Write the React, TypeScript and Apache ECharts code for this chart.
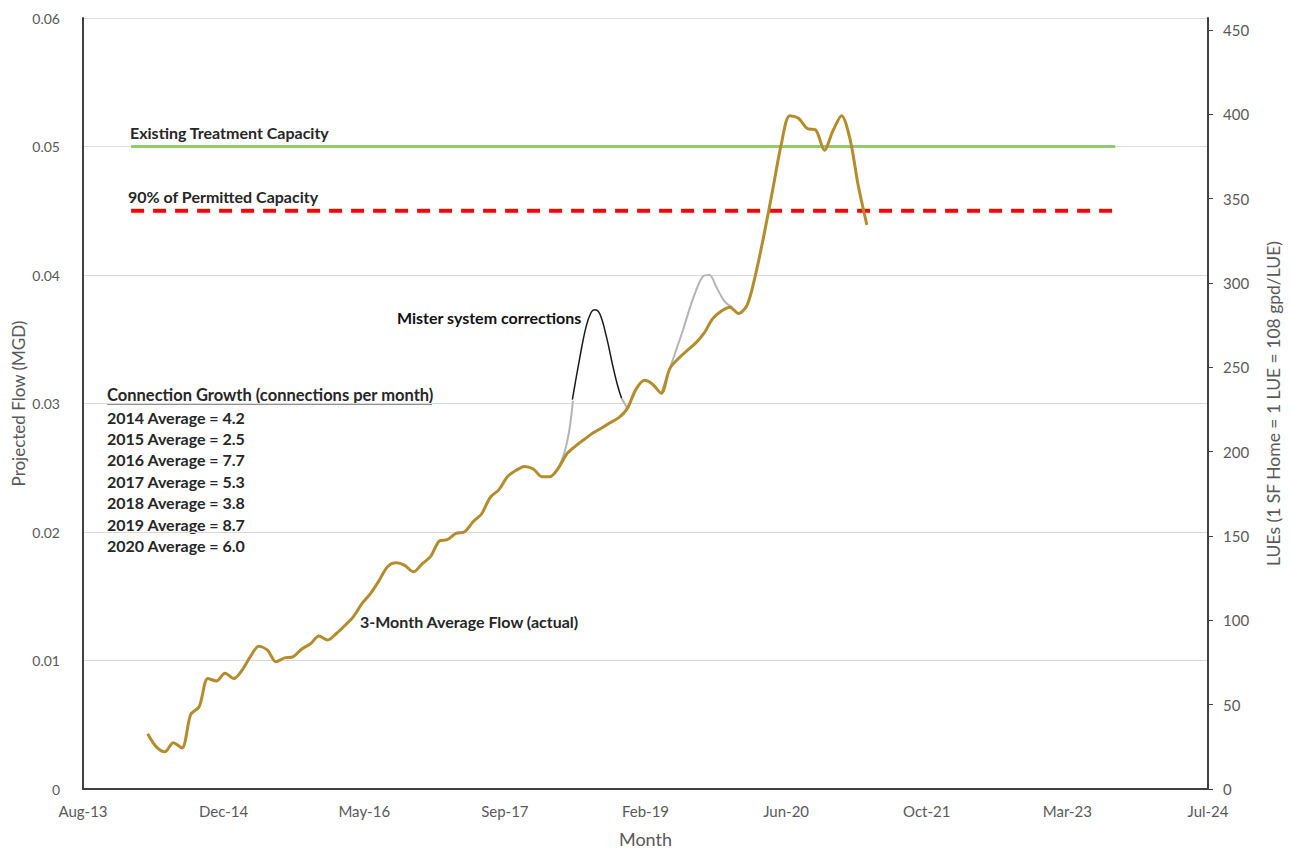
import { useEffect, useRef } from "react";
import * as echarts from "echarts";

// ---------- axis settings (Excel date serials) ----------
const X_MIN = 41500;
const X_MAX = 45500;
const X_STEP = 500;
const LEFT_MAX = 0.06;
const LEFT_STEP = 0.01;
const RIGHT_MAX = 457;
const RIGHT_TICKS = [0, 50, 100, 150, 200, 250, 300, 350, 400, 450];
const MONTH_NAMES = ["Jan", "Feb", "Mar", "Apr", "May", "Jun", "Jul", "Aug", "Sep", "Oct", "Nov", "Dec"];

// ---------- data ----------
const flowMonths = [
  "2014-04-01", "2014-05-01", "2014-06-01", "2014-07-01", "2014-08-01", "2014-09-01", "2014-10-01", "2014-11-01", "2014-12-01",
  "2015-01-01", "2015-02-01", "2015-03-01", "2015-04-01", "2015-05-01", "2015-06-01", "2015-07-01", "2015-08-01", "2015-09-01", "2015-10-01", "2015-11-01", "2015-12-01",
  "2016-01-01", "2016-02-01", "2016-03-01", "2016-04-01", "2016-05-01", "2016-06-01", "2016-07-01", "2016-08-01", "2016-09-01", "2016-10-01", "2016-11-01", "2016-12-01",
  "2017-01-01", "2017-02-01", "2017-03-01", "2017-04-01", "2017-05-01", "2017-06-01", "2017-07-01", "2017-08-01", "2017-09-01", "2017-10-01", "2017-11-01", "2017-12-01",
  "2018-01-01", "2018-02-01", "2018-03-01", "2018-04-01", "2018-05-01", "2018-06-01", "2018-07-01", "2018-08-01", "2018-09-01", "2018-10-01", "2018-11-01", "2018-12-01",
  "2019-01-01", "2019-02-01", "2019-03-01", "2019-04-01", "2019-05-01", "2019-06-01", "2019-07-01", "2019-08-01", "2019-09-01", "2019-10-01", "2019-11-01", "2019-12-01",
  "2020-01-01", "2020-02-01", "2020-03-01", "2020-04-01", "2020-05-01", "2020-06-01", "2020-07-01", "2020-08-01", "2020-09-01", "2020-10-01", "2020-11-01", "2020-12-01",
  "2021-01-01", "2021-02-01", "2021-03-01", "2021-04-01",
];
const flowValues = [
  0.0043, 0.0033, 0.0029, 0.0036, 0.0032, 0.0058, 0.0064, 0.0086, 0.0084,
  0.0090, 0.0086, 0.0092, 0.0103, 0.0111, 0.0108, 0.0099, 0.0102, 0.0103, 0.0109, 0.0113, 0.0119,
  0.0116, 0.0121, 0.0127, 0.0134, 0.0144, 0.0152, 0.0162, 0.0173, 0.0176, 0.0174, 0.0169, 0.0175,
  0.0181, 0.0193, 0.0194, 0.0199, 0.0200, 0.0208, 0.0214, 0.0227, 0.0233, 0.0243, 0.0248, 0.0251,
  0.0249, 0.0243, 0.0243, 0.0250, 0.0261, 0.0267, 0.0272, 0.0277, 0.0281, 0.0285, 0.0289, 0.0296,
  0.0311, 0.0318, 0.0315, 0.0308, 0.0327, 0.0335, 0.0341, 0.0347, 0.0355, 0.0366, 0.0372, 0.0375,
  0.0370, 0.0377, 0.0400, 0.0432, 0.0466, 0.0502, 0.0524, 0.0522, 0.0514, 0.0513, 0.0497, 0.0512,
  0.0524, 0.0505, 0.0470, 0.0439,
];

// uncorrected flow (grey) where it differs from the corrected line
const rawSpike1Dates = ["2018-04-01", "2018-04-22", "2018-05-09", "2018-05-22"];
const rawSpike1Values = [0.0250, 0.0262, 0.0279, 0.0302];
const rawSpike1bDates = ["2018-11-11", "2018-11-22", "2018-12-01"];
const rawSpike1bValues = [0.0304, 0.0300, 0.0296];
const rawSpike2Dates = ["2019-04-01", "2019-05-12", "2019-06-17", "2019-07-22", "2019-08-27", "2019-09-20", "2019-10-13", "2019-11-07", "2019-11-24", "2019-12-10"];
const rawSpike2Values = [0.0308, 0.0334, 0.0357, 0.0381, 0.0399, 0.0400, 0.0391, 0.0381, 0.0377, 0.0375];

// "Mister system corrections" callout curve
const misterDates = ["2018-05-20", "2018-06-14", "2018-07-08", "2018-07-26", "2018-08-07", "2018-08-25", "2018-09-18", "2018-10-11", "2018-10-29", "2018-11-11"];
const misterValues = [0.0303, 0.0334, 0.0360, 0.0371, 0.0373, 0.0370, 0.0352, 0.0329, 0.0313, 0.0304];

const capacityDates = ["2014-02-01", "2023-09-01"];
const existingCapacity = [0.05, 0.05];
const permitted90 = [0.045, 0.045];

const growthTitle = "Connection Growth (connections per month)";
const growthYears = ["2014", "2015", "2016", "2017", "2018", "2019", "2020"];
const growthAverages = ["4.2", "2.5", "7.7", "5.3", "3.8", "8.7", "6.0"];

// ---------- helpers ----------
const EXCEL_EPOCH = Date.UTC(1899, 11, 30);
function toSerial(d: string): number {
  const [y, m, dd] = d.split("-").map(Number);
  return (Date.UTC(y, m - 1, dd) - EXCEL_EPOCH) / 86400000;
}
function serialLabel(v: number): string {
  const dt = new Date(EXCEL_EPOCH + Math.round(v) * 86400000);
  const yy = String(dt.getUTCFullYear() % 100).padStart(2, "0");
  return `${MONTH_NAMES[dt.getUTCMonth()]}-${yy}`;
}
function pairs(dates: string[], values: number[]) {
  return dates.map((d, i) => [toSerial(d), values[i]]);
}

const FONT = "Lato, 'Open Sans', sans-serif";
const AXIS_COLOR = "#404040";
const LABEL_COLOR = "#595959";
const TEXT_COLOR = "#262626";

export default function App() {
  const ref = useRef<HTMLDivElement>(null);
  useEffect(() => {
    document.body.style.margin = "0";
    if (!ref.current) return;
    const chart = echarts.init(ref.current, undefined, { renderer: "svg" });

    const annotFont = `bold 16px ${FONT}`;
    const graphics: any[] = [
      { type: "text", x: 130, y: 132, style: { text: "Existing Treatment Capacity", font: annotFont, fill: TEXT_COLOR, verticalAlign: "middle" } },
      { type: "text", x: 128, y: 196, style: { text: "90% of Permitted Capacity", font: annotFont, fill: TEXT_COLOR, verticalAlign: "middle" } },
      { type: "text", x: 397, y: 317, style: { text: "Mister system corrections", font: annotFont, fill: "#111111", verticalAlign: "middle" } },
      { type: "text", x: 360, y: 621, style: { text: "3-Month Average Flow (actual)", font: annotFont, fill: TEXT_COLOR, verticalAlign: "middle" } },
      { type: "text", x: 107, y: 395, style: { text: growthTitle, font: `bold 16.5px ${FONT}`, fill: TEXT_COLOR, verticalAlign: "middle" } },
      { type: "line", shape: { x1: 107, y1: 404, x2: 432, y2: 404 }, style: { stroke: TEXT_COLOR, lineWidth: 1.2 } },
    ];
    const rowY = [417, 438, 459, 481, 502, 524, 545];
    growthYears.forEach((yr, i) => {
      graphics.push({
        type: "text",
        x: 107,
        y: rowY[i],
        style: { text: `${yr} Average = ${growthAverages[i]}`, font: annotFont, fill: TEXT_COLOR, verticalAlign: "middle" },
      });
    });

    chart.setOption({
      animation: false,
      backgroundColor: "#ffffff",
      grid: { left: 83, right: 83, top: 18, bottom: 63, containLabel: false, outerBoundsMode: "none" },
      xAxis: {
        type: "value",
        min: X_MIN,
        max: X_MAX,
        interval: X_STEP,
        name: "Month",
        nameLocation: "middle",
        nameGap: 41,
        nameMoveOverlap: false,
        nameTextStyle: { color: LABEL_COLOR, fontSize: 18, fontFamily: FONT },
        axisLine: { show: true, lineStyle: { color: AXIS_COLOR, width: 2 } },
        axisTick: { show: false },
        splitLine: { show: false },
        axisLabel: { color: LABEL_COLOR, fontSize: 15, fontFamily: FONT, margin: 14, formatter: (v: number) => serialLabel(v) },
      },
      yAxis: [
        {
          type: "value",
          min: 0,
          max: LEFT_MAX,
          interval: LEFT_STEP,
          name: "Projected Flow (MGD)",
          nameLocation: "middle",
          nameRotate: 90,
          nameGap: 56,
          nameMoveOverlap: false,
          nameTextStyle: { color: LABEL_COLOR, fontSize: 17, fontFamily: FONT },
          axisLine: { show: true, lineStyle: { color: AXIS_COLOR, width: 2 } },
          axisTick: { show: false },
          splitLine: { show: true, lineStyle: { color: "#d9d9d9", width: 1 } },
          axisLabel: {
            color: LABEL_COLOR,
            fontSize: 14,
            fontFamily: FONT,
            margin: 23,
            formatter: (v: number) => (v === 0 ? "0" : v.toFixed(2)),
          },
        },
        {
          type: "value",
          position: "right",
          min: 0,
          max: RIGHT_MAX,
          interval: 50,
          name: "LUEs (1 SF Home = 1 LUE = 108 gpd/LUE)",
          nameLocation: "middle",
          nameRotate: 90,
          nameGap: 56,
          nameMoveOverlap: false,
          nameTextStyle: { color: LABEL_COLOR, fontSize: 17.5, fontFamily: FONT },
          axisLine: { show: true, onZero: false, lineStyle: { color: AXIS_COLOR, width: 2 } },
          axisTick: { show: true, length: 5, lineStyle: { color: AXIS_COLOR, width: 1 }, customValues: RIGHT_TICKS },
          splitLine: { show: false },
          axisLabel: { color: LABEL_COLOR, fontSize: 15, fontFamily: FONT, margin: 15, customValues: RIGHT_TICKS },
        },
      ],
      graphic: graphics,
      series: [
        {
          name: "Existing Treatment Capacity",
          type: "line",
          data: pairs(capacityDates, existingCapacity),
          symbol: "none",
          lineStyle: { color: "#92D050", width: 3 },
          z: 2,
        },
        {
          name: "90% of Permitted Capacity",
          type: "line",
          data: pairs(capacityDates, permitted90),
          symbol: "none",
          lineStyle: { color: "#FF0000", width: 4, type: [13, 9] },
          z: 2,
        },
        {
          name: "Raw flow 1",
          type: "line",
          data: pairs(rawSpike1Dates, rawSpike1Values),
          symbol: "none",
          smooth: 0.3,
          lineStyle: { color: "#B4B4B4", width: 2 },
          z: 3,
        },
        {
          name: "Raw flow 1b",
          type: "line",
          data: pairs(rawSpike1bDates, rawSpike1bValues),
          symbol: "none",
          smooth: 0.3,
          lineStyle: { color: "#B4B4B4", width: 2 },
          z: 3,
        },
        {
          name: "Raw flow 2",
          type: "line",
          data: pairs(rawSpike2Dates, rawSpike2Values),
          symbol: "none",
          smooth: 0.3,
          lineStyle: { color: "#B4B4B4", width: 2 },
          z: 3,
        },
        {
          name: "Mister system corrections",
          type: "line",
          data: pairs(misterDates, misterValues),
          symbol: "none",
          smooth: 0.4,
          lineStyle: { color: "#1a1a1a", width: 1.5 },
          z: 3,
        },
        {
          name: "3-Month Average Flow (actual)",
          type: "line",
          data: pairs(flowMonths, flowValues),
          symbol: "none",
          smooth: 0.3,
          lineStyle: { color: "#B38D2C", width: 3 },
          z: 4,
        },
      ],
    });
    return () => chart.dispose();
  }, []);
  return <div ref={ref} style={{ width: 1291, height: 852 }} />;
}
